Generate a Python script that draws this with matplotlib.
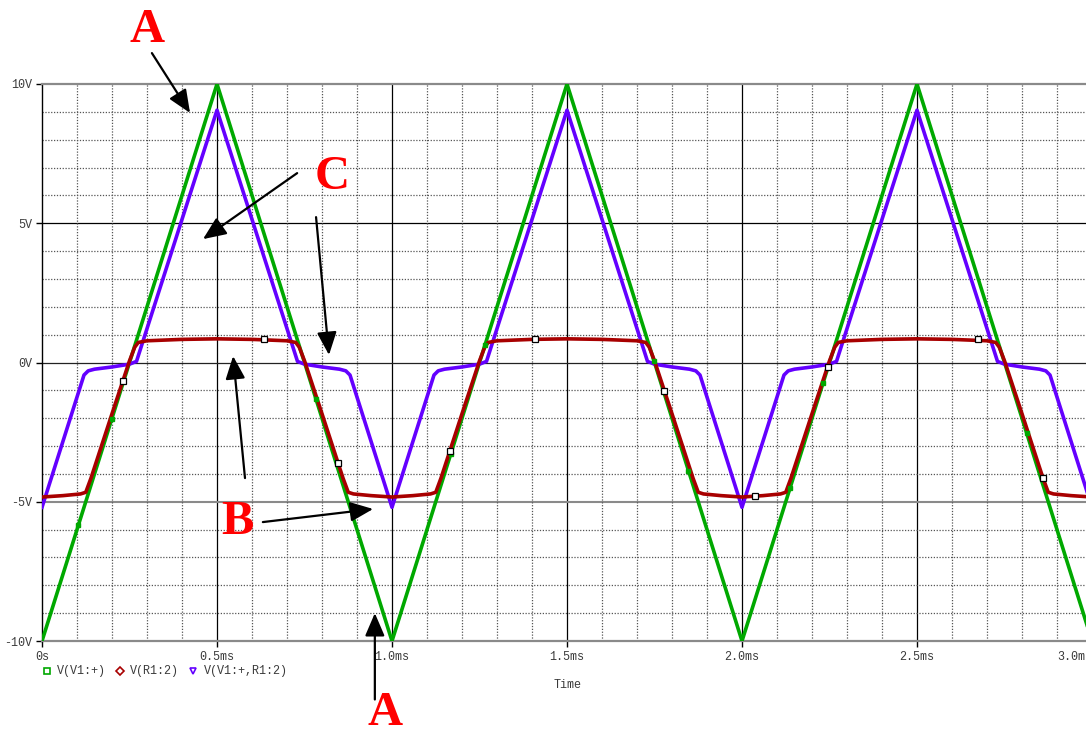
import matplotlib.pyplot as plt
from matplotlib.lines import Line2D

# PSpice transient: triangle source, diode-clipped node and the difference
W, H = 1086, 731

# V(V1:+)  (time in ms, volts)
t_src = [0.0, 0.5, 1.0, 1.5, 2.0, 2.5, 3.0]
v_src = [-10.0, 10.0, -10.0, 10.0, -10.0, 10.0, -10.0]

# V(R1:2)
t_r1 = [0.000, 0.060, 0.110, 0.125, 0.140, 0.200, 0.250, 0.265, 0.275, 0.300, 0.400,
        0.500, 0.600, 0.700, 0.725, 0.735, 0.750, 0.800, 0.860, 0.875, 0.890, 0.940,
        1.000, 1.060, 1.110, 1.125, 1.140, 1.200, 1.250, 1.265, 1.275, 1.300, 1.400,
        1.500, 1.600, 1.700, 1.725, 1.735, 1.750, 1.800, 1.860, 1.875, 1.890, 1.940,
        2.000, 2.060, 2.110, 2.125, 2.140, 2.200, 2.250, 2.265, 2.275, 2.300, 2.400,
        2.500, 2.600, 2.700, 2.725, 2.735, 2.750, 2.800, 2.860, 2.875, 2.890, 2.940,
        3.000]
v_r1 = [-4.83, -4.78, -4.72, -4.66, -4.15, -1.84, 0.06, 0.55, 0.72, 0.78, 0.83,
        0.85, 0.83, 0.78, 0.72, 0.55, 0.06, -1.84, -4.15, -4.66, -4.72, -4.78,
        -4.83, -4.78, -4.72, -4.66, -4.15, -1.84, 0.06, 0.55, 0.72, 0.78, 0.83,
        0.85, 0.83, 0.78, 0.72, 0.55, 0.06, -1.84, -4.15, -4.66, -4.72, -4.78,
        -4.83, -4.78, -4.72, -4.66, -4.15, -1.84, 0.06, 0.55, 0.72, 0.78, 0.83,
        0.85, 0.83, 0.78, 0.72, 0.55, 0.06, -1.84, -4.15, -4.66, -4.72, -4.78,
        -4.83]

# V(V1:+,R1:2)
t_diff = [0.000, 0.120, 0.132, 0.150, 0.200, 0.250, 0.270, 0.500,
          0.730, 0.750, 0.800, 0.850, 0.868, 0.880,
          1.000, 1.120, 1.132, 1.150, 1.200, 1.250, 1.270, 1.500,
          1.730, 1.750, 1.800, 1.850, 1.868, 1.880,
          2.000, 2.120, 2.132, 2.150, 2.200, 2.250, 2.270, 2.500,
          2.730, 2.750, 2.800, 2.850, 2.868, 2.880, 3.000]
v_diff = [-5.20, -0.45, -0.30, -0.24, -0.16, -0.06, 0.04, 9.06,
          0.04, -0.06, -0.16, -0.24, -0.30, -0.45,
          -5.20, -0.45, -0.30, -0.24, -0.16, -0.06, 0.04, 9.06,
          0.04, -0.06, -0.16, -0.24, -0.30, -0.45,
          -5.20, -0.45, -0.30, -0.24, -0.16, -0.06, 0.04, 9.06,
          0.04, -0.06, -0.16, -0.24, -0.30, -0.45, -5.20]

# trace symbols
src_mark_t = [0.104, 0.199, 0.783, 1.168, 1.266, 1.749, 1.847, 2.137, 2.232, 2.813]
src_mark_v = [-5.84, -2.04, -1.32, -3.28, 0.64, 0.04, -3.88, -4.52, -0.72, -2.52]
r1_mark_t = [0.231, 0.634, 0.846, 1.166, 1.409, 1.777, 2.037, 2.246, 2.674, 2.860]
r1_mark_v = [-0.66, 0.83, -3.61, -3.17, 0.84, -1.02, -4.80, -0.15, 0.83, -4.15]

x_ticks = [0.0, 0.5, 1.0, 1.5, 2.0, 2.5, 3.0]
x_labels = ['0s', '0.5ms', '1.0ms', '1.5ms', '2.0ms', '2.5ms', '3.0ms']
y_ticks = [-10, -5, 0, 5, 10]
y_labels = ['-10V', '-5V', '0V', '5V', '10V']

GREEN = '#00a800'
RED = '#a80000'
BLUE = '#6400ff'
MONO = 'Liberation Mono'
TXT = '#3a3a3a'


def fx(px):
    return px / W


def fy(py):
    return 1 - py / H


fig = plt.figure(figsize=(W / 100, H / 100), dpi=100)
# plot area runs a little past the right edge of the image
ax = fig.add_axes([fx(42), fy(641), 1050 / W, 557 / H])
ax.set_xlim(0, 3.0)
ax.set_ylim(-10, 10)

# grid: dotted minor divisions, solid major ones
ax.set_xticks([i / 10 for i in range(31) if i % 5], minor=True)
ax.set_yticks([v for v in range(-10, 11) if v % 5], minor=True)
ax.grid(which='minor', color='#555555', linestyle=(0, (1, 1.3)), linewidth=0.9)
ax.tick_params(which='minor', length=0)
for xv in x_ticks[1:]:
    ax.axvline(xv, color='black', linewidth=0.9, zorder=1)
ax.axhline(5, color='black', linewidth=0.9, zorder=1)
ax.axhline(0, color='#222222', linewidth=0.9, zorder=1)
ax.axhline(-5, color='#8a8a8a', linewidth=1.5, zorder=1)

for side in ['top', 'bottom']:
    ax.spines[side].set_color('#8a8a8a')
    ax.spines[side].set_linewidth(1.6)
ax.spines['left'].set_color('black')
ax.spines['left'].set_linewidth(1.0)
ax.spines['right'].set_visible(False)

ax.set_xticks(x_ticks)
ax.set_xticklabels(x_labels)
ax.set_yticks(y_ticks)
ax.set_yticklabels(y_labels)
ax.tick_params(which='major', direction='out', length=4, width=1, color='black',
               labelsize=8.5, labelcolor=TXT, pad=3)
for lab in ax.get_xticklabels() + ax.get_yticklabels():
    lab.set_family(MONO)
# last time label is pulled in against the plot edge
ax.get_xticklabels()[-1].set_horizontalalignment('right')

# traces
ax.plot(t_src, v_src, color=GREEN, linewidth=2.6, zorder=3)
ax.plot(t_diff, v_diff, color=BLUE, linewidth=2.6, zorder=4)
ax.plot(t_r1, v_r1, color=RED, linewidth=2.6, zorder=5)
ax.plot(src_mark_t, src_mark_v, linestyle='none', marker='s', markersize=3.5,
        markerfacecolor=GREEN, markeredgecolor=GREEN, zorder=6)
ax.plot(r1_mark_t, r1_mark_v, linestyle='none', marker='s', markersize=5,
        markerfacecolor='white', markeredgecolor='black', markeredgewidth=0.9, zorder=7)

# legend row under the axis
legend_items = [(47, 57, 's', GREEN, 'V(V1:+)'),
                (120, 130, 'D', RED, 'V(R1:2)'),
                (193, 204, 'v', BLUE, 'V(V1:+,R1:2)')]
for mx, tx, mk, col, name in legend_items:
    fig.add_artist(Line2D([fx(mx)], [fy(671)], marker=mk, markersize=4,
                          markerfacecolor='white', markeredgecolor=col, markeredgewidth=1.2))
    fig.text(fx(tx), fy(671), name, family=MONO, fontsize=8.5, color=TXT,
             ha='left', va='center')
fig.text(fx(568), fy(685), 'Time', family=MONO, fontsize=8.5, color=TXT,
         ha='center', va='center')

# callouts
letter_kw = dict(family='Liberation Serif', fontweight='bold', fontsize=35,
                 color='#ff0000', ha='center', va='baseline', clip_on=False)
ax.text(0.301, 11.51, 'A', **letter_kw)
ax.text(0.829, 6.23, 'C', **letter_kw)
ax.text(0.557, -6.16, 'B', **letter_kw)
ax.text(0.98, -13.0, 'A', **letter_kw)

arrow_kw = dict(arrowstyle='-|>,head_length=0.7,head_width=0.3', color='black',
                linewidth=1.6, mutation_scale=20, shrinkA=0, shrinkB=0)
callouts = [((0.314, 11.11), (0.423, 8.96)),
            ((0.729, 6.80), (0.460, 4.43)),
            ((0.783, 5.22), (0.820, 0.27)),
            ((0.580, -4.15), (0.546, 0.23)),
            ((0.631, -5.73), (0.946, -5.26)),
            ((0.951, -12.10), (0.951, -9.00))]
for start, tip in callouts:
    ax.annotate('', xy=tip, xytext=start, arrowprops=arrow_kw,
                annotation_clip=False, zorder=8)

fig.savefig('out.png', dpi=100)
